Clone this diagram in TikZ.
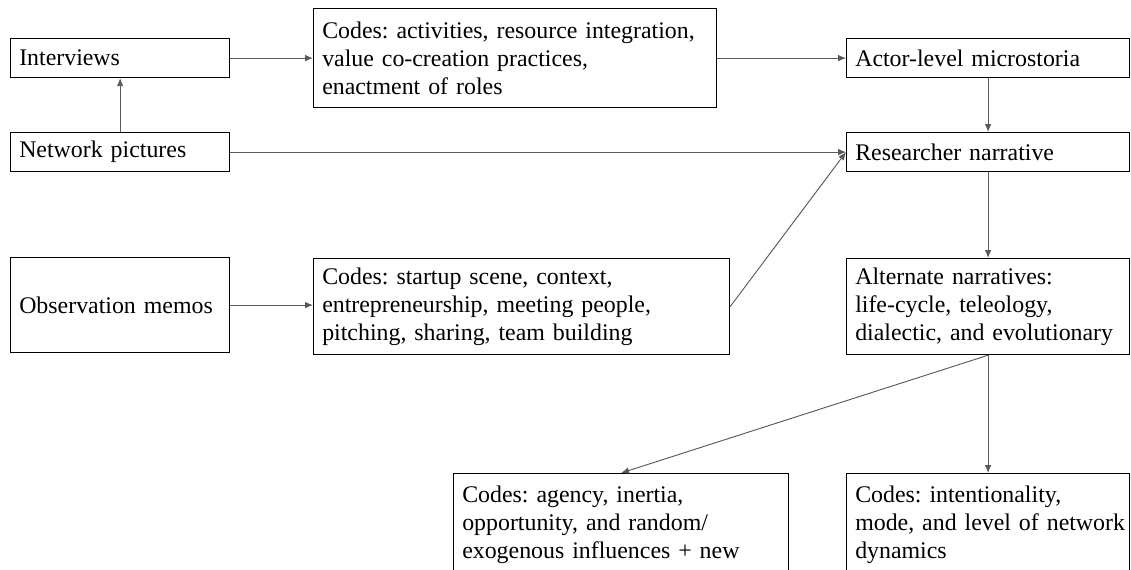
\documentclass[tikz,border=0pt]{standalone}
\usepackage{fontspec}
\setmainfont{Liberation Serif}
\usetikzlibrary{arrows.meta}
\frenchspacing
\tikzset{
  box/.style={draw=black, line width=0.9pt, anchor=north west, align=left,
    inner xsep=6.5pt, font=\fontsize{17.9}{21.2}\selectfont},
  link/.style={draw=black!65, line width=0.7pt, -{Latex[length=6pt,width=5pt]}}
}
\begin{document}
\begin{tikzpicture}[x=0.75pt, y=-0.75pt]
\path[use as bounding box, clip] (0,0) rectangle (1131,569);
%%%% Sources:
\node[box, text width=151.25pt, minimum height=29.25pt] (intv) at (10,38) {Interviews};
\node[box, text width=151.25pt, minimum height=29.25pt] (netw) at (10,132) {Network pictures};
\node[box, text width=151.25pt, minimum height=71.25pt] (obsv) at (10,257) {Observation memos};
%%%% First codes
\node[box, text width=289.25pt, minimum height=74.25pt] (codesA) at (313,8)
  {\mbox{Codes: activities, resource integration,}\\value co-creation practices,\\enactment of roles};
\node[box, text width=299pt, minimum height=72pt] (codesB) at (313,258)
  {Codes: startup scene, context,\\entrepreneurship, meeting people,\\pitching, sharing, team building};
%%%% Narratives
\node[box, text width=199.25pt, minimum height=29.25pt] (actor) at (846,38) {Actor-level microstoria};
\node[box, text width=199.25pt, minimum height=29.25pt] (resn) at (846,132) {Researcher narrative};
\node[box, text width=199.25pt, minimum height=72pt] (alter) at (846,258)
  {Alternate narratives:\\life-cycle, teleology,\\\mbox{dialectic, and evolutionary}};
%%%% Last codes (cut at the bottom)
\node[box, text width=238.25pt, inner ysep=9pt] (codesC) at (453,473)
  {Codes: agency, inertia,\\opportunity, and random/\\exogenous influences + new\\ \mbox{}};
\node[box, text width=199.25pt, inner ysep=9pt] (codesD) at (846,473)
  {Codes: intentionality,\\\mbox{mode, and level of network}\\dynamics\\ \mbox{}};
%%%% Arrows
\draw[link] (intv) -- (codesA);
\draw[link] (netw) -- (intv);
\draw[link] (codesA) -- (actor);
\draw[link] (actor) -- (resn);
\draw[link] (netw) -- (resn);
\draw[link] (codesB.east) -- (resn.west);
\draw[link] (obsv.east) -- (obsv.east -| codesB.west);
\draw[link] (resn) -- (alter);
\draw[link] (alter.south) -- (codesC.north);
\draw[link] (alter.south) -- (codesD.north);
\end{tikzpicture}
\end{document}
